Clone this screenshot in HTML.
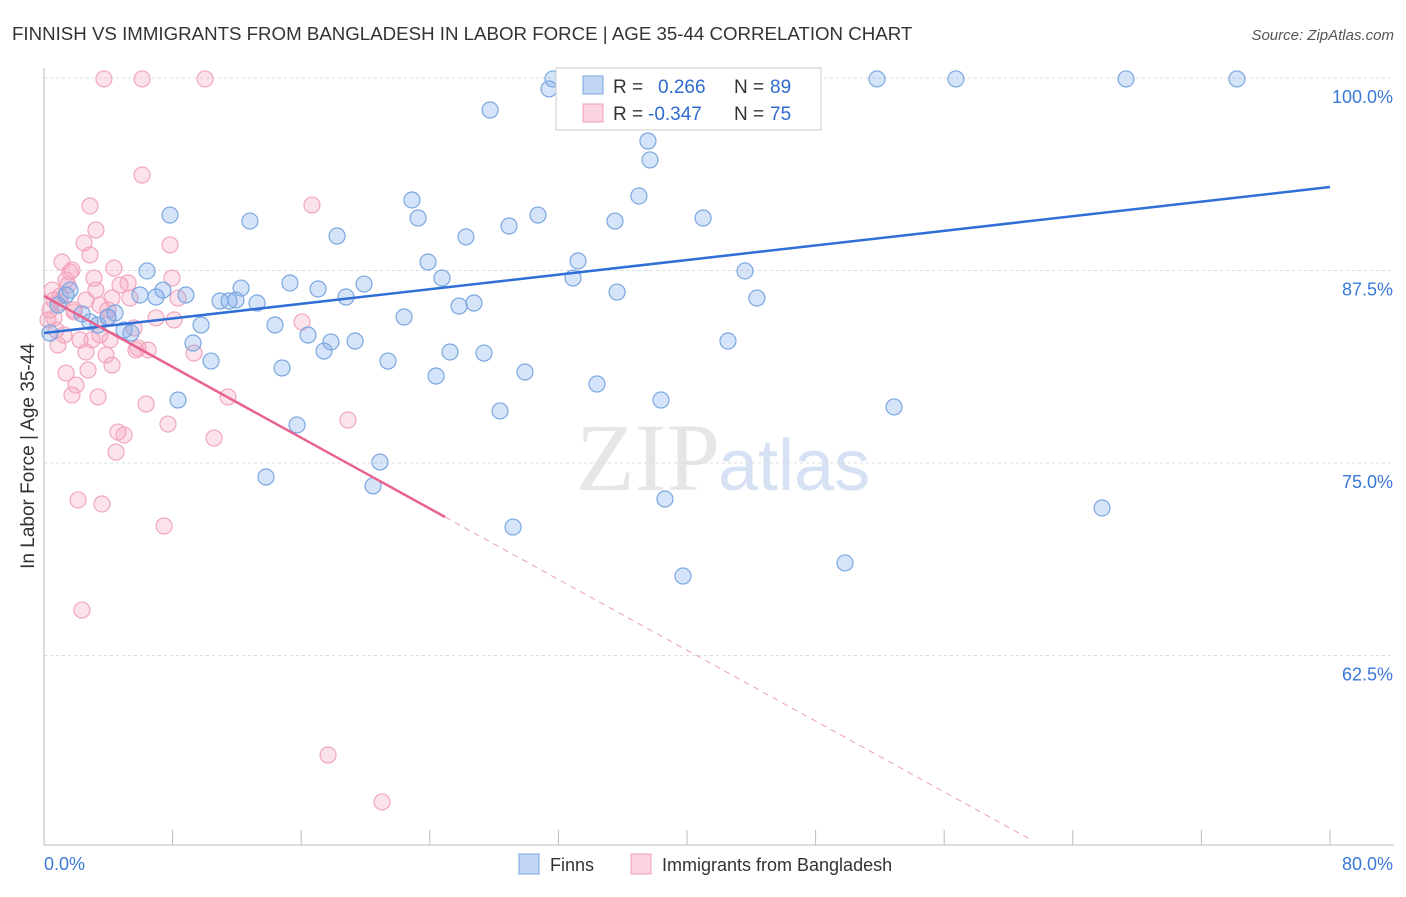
<!DOCTYPE html>
<html><head><meta charset="utf-8"><style>
body{margin:0;background:#fff;font-family:"Liberation Sans",sans-serif;}
</style></head><body>
<svg id="chart" width="1406" height="892" xmlns="http://www.w3.org/2000/svg" font-family="Liberation Sans, sans-serif">
<text x="12" y="40" font-size="18.7" fill="#333">FINNISH VS IMMIGRANTS FROM BANGLADESH IN LABOR FORCE | AGE 35-44 CORRELATION CHART</text>
<text x="1394" y="40" font-size="15" fill="#555" text-anchor="end" font-style="italic">Source: ZipAtlas.com</text>
<text transform="translate(34,456) rotate(-90)" font-size="19" fill="#333" text-anchor="middle">In Labor Force | Age 35-44</text>
<text x="720" y="490" font-size="96" text-anchor="end" fill="#e6e6e6" font-family="Liberation Serif, serif">ZIP</text>
<text x="718" y="490" font-size="72" fill="#d6e2f4">atlas</text>
<g id="axes"></g>
<g id="marks"></g>
<g>
<rect x="556" y="68" width="265" height="62" fill="#fff" stroke="#ccc"/>
<rect x="583" y="76" width="20" height="18" fill="rgba(120,165,235,0.45)" stroke="#7aa7e0"/>
<text x="613" y="93" font-size="19" fill="#333">R = </text><text x="658" y="93" font-size="19" fill="#2f6bd0">0.266</text>
<text x="734" y="93" font-size="19" fill="#333">N = </text><text x="770" y="93" font-size="19" fill="#2f6bd0">89</text>
<rect x="583" y="104" width="20" height="18" fill="rgba(245,160,185,0.45)" stroke="#f0a0b8"/>
<text x="613" y="120" font-size="19" fill="#333">R = </text><text x="648" y="120" font-size="19" fill="#2f6bd0">-0.347</text>
<text x="734" y="120" font-size="19" fill="#333">N = </text><text x="770" y="120" font-size="19" fill="#2f6bd0">75</text>
</g>
<g>
<rect x="519" y="854" width="20" height="20" fill="rgba(120,165,235,0.45)" stroke="#7aa7e0"/>
<text x="550" y="871" font-size="18" fill="#333">Finns</text>
<rect x="631" y="854" width="20" height="20" fill="rgba(245,160,185,0.45)" stroke="#f0a0b8"/>
<text x="662" y="871" font-size="18" fill="#333">Immigrants from Bangladesh</text>
</g>
</svg>
<script>
const blueX=[0.37,0.87,1.37,1.62,2.36,2.86,3.36,3.98,4.42,4.98,5.41,5.97,6.41,6.97,7.40,7.84,8.34,8.83,9.27,9.77,10.39,10.95,11.51,11.94,12.26,12.81,13.25,13.81,14.37,14.81,15.30,15.74,16.42,17.05,17.42,17.85,18.23,18.79,19.35,19.91,20.47,20.90,21.40,22.40,22.89,23.27,23.89,24.39,24.76,25.26,25.82,26.25,26.75,27.37,27.75,28.37,28.93,29.18,29.92,30.73,31.42,31.66,32.91,33.22,34.40,34.65,35.52,35.65,37.01,37.57,37.70,38.38,38.63,39.75,41.00,41.62,42.55,43.61,44.35,45.10,46.90,49.83,51.82,52.88,56.73,65.82,67.31,74.21];
const blueY=[83.44,85.26,85.91,86.23,84.68,84.16,83.96,84.48,84.74,83.64,83.44,85.91,87.47,85.78,86.23,91.10,79.09,85.91,82.79,83.96,81.62,85.52,85.52,85.58,86.36,90.71,85.39,74.09,83.96,81.17,86.69,77.47,83.31,86.30,82.27,82.86,89.74,85.78,82.92,86.62,73.51,75.06,81.62,84.48,92.08,90.91,88.05,80.65,87.01,82.21,85.19,89.68,85.39,82.14,97.92,78.38,90.39,70.84,80.91,91.10,99.29,99.94,87.01,88.12,80.13,99.94,90.71,86.10,92.34,95.91,94.68,79.09,72.66,67.66,90.91,99.94,82.92,87.47,85.71,99.94,99.94,68.51,99.94,78.64,99.94,72.08,99.94,99.94];
const pinkX=[0.25,0.37,0.5,0.62,0.75,0.87,1.0,1.12,1.24,1.37,1.49,1.62,1.74,1.87,1.99,2.12,2.24,2.36,2.49,2.61,2.74,2.86,2.99,3.11,3.23,3.36,3.48,3.61,3.73,3.86,3.98,4.11,4.23,4.35,4.48,4.60,4.73,4.98,5.23,5.60,5.85,6.10,6.10,6.35,6.47,6.97,7.47,7.71,7.84,7.96,8.09,8.34,9.33,10.02,10.58,11.45,16.05,16.67,17.67,18.91,21.03,0.62,1.0,1.37,1.74,1.87,2.61,2.86,3.23,3.48,3.98,4.23,5.35,5.72];
const pinkY=[84.29,84.94,86.23,85.58,83.64,82.66,85.84,88.05,83.31,80.84,86.56,87.40,79.42,84.94,80.06,72.60,82.99,65.45,89.29,82.21,81.04,91.69,82.99,87.01,90.13,79.29,85.26,72.34,99.94,82.01,84.94,82.99,85.71,87.66,75.71,77.01,86.56,76.82,86.69,83.77,82.47,99.94,93.70,78.83,82.34,84.42,70.91,77.53,89.16,87.01,84.29,85.71,82.14,99.94,76.62,79.29,84.16,91.75,56.04,77.79,52.99,84.42,85.45,86.88,87.53,84.81,85.58,88.51,86.23,83.31,84.42,81.36,85.71,82.34];
const yTicks=[100,87.5,75,62.5];
const yTickLabels=["100.0%","87.5%","75.0%","62.5%"];
const blueTrend=[83.44,92.92];
const pinkTrend=[85.84,-0.575];
const NS="http://www.w3.org/2000/svg";
const sx=v=>44+v*1286/80, sy=v=>78+(100-v)*15.4;
const axes=document.getElementById('axes'), marks=document.getElementById('marks');
function mk(tag,attrs,parent){const e=document.createElementNS(NS,tag);for(const k in attrs)e.setAttribute(k,attrs[k]);parent.appendChild(e);return e;}
yTicks.forEach((t,i)=>{
  const g=mk('line',{x1:44,x2:1394,y1:sy(t),y2:sy(t),stroke:'#ddd','stroke-dasharray':'3,3'},axes);
  
  
  const tx=mk('text',{x:1393,y:sy(t)+25,'font-size':18,fill:'#3a78d8','text-anchor':'end'},axes);
  tx.textContent=yTickLabels[i];
  
  
});
const ax=mk('line',{x1:44,x2:44,y1:68,y2:845,stroke:'#bbb'},axes);


const bx=mk('line',{x1:44,x2:1394,y1:845,y2:845,stroke:'#bbb'},axes);


for(let v=0;v<=80;v+=8){
  const tk=mk('line',{x1:sx(v),x2:sx(v),y1:830,y2:845,stroke:'#bbb'},axes);
  
  
}
const xl0=mk('text',{x:44,y:870,'font-size':18,fill:'#3a78d8'},axes);xl0.textContent='0.0%';


const xl1=mk('text',{x:1393,y:870,'font-size':18,fill:'#3a78d8','text-anchor':'end'},axes);xl1.textContent='80.0%';


for(let i=0;i<Math.min(pinkX.length,pinkY.length);i++){
  const c=mk('circle',{cx:sx(pinkX[i]),cy:sy(pinkY[i]),r:8,fill:'rgba(245,160,185,0.3)',stroke:'#f2a6bd','stroke-width':1.2},marks);
  
  
}
for(let i=0;i<Math.min(blueX.length,blueY.length);i++){
  const c=mk('circle',{cx:sx(blueX[i]),cy:sy(blueY[i]),r:8,fill:'rgba(120,165,235,0.3)',stroke:'#7aa7e0','stroke-width':1.2},marks);
  
  
}
const bl=mk('line',{x1:sx(0),y1:sy(blueTrend[0]),x2:sx(80),y2:sy(blueTrend[1]),stroke:'#2f6fd6','stroke-width':2.5},marks);


const pe=24.95, pd=61.3;
const pl=mk('line',{x1:sx(0),y1:sy(pinkTrend[0]),x2:sx(pe),y2:sy(pinkTrend[0]+pinkTrend[1]*pe),stroke:'#e8628e','stroke-width':2.5},marks);


const pdl=mk('line',{x1:sx(pe),y1:sy(pinkTrend[0]+pinkTrend[1]*pe),x2:sx(pd),y2:sy(pinkTrend[0]+pinkTrend[1]*pd),stroke:'#e8a0b8','stroke-width':1,'stroke-dasharray':'6,5'},marks);


</script>
</body></html>
